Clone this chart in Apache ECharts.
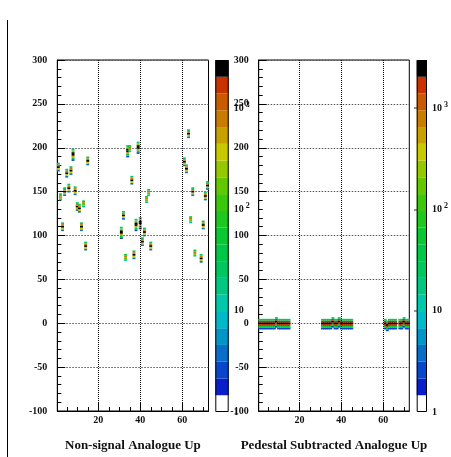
<!DOCTYPE html>
<html>
<head>
<meta charset="utf-8">
<script src="https://cdn.jsdelivr.net/npm/echarts@6/dist/echarts.min.js"></script>
<style>
html, body { margin: 0; padding: 0; background: #fff; }
#main { width: 451px; height: 457px; }
</style>
</head>
<body>
<div id="main"></div>
<script>
// axis ranges
const xMin = 0.5, xMax = 72.5, yMin = -100, yMax = 300;
const yBin = 2;
const cellHalfWidth = 0.7;
const logZMax = 3.475;
const xMajor = [20, 40, 60];
const xMinor = [5, 10, 15, 25, 30, 35, 45, 50, 55, 65, 70];
const cbDecades = [0, 1, 2, 3];
const cbMinorCounts = [2, 3, 4, 5, 6, 7, 8, 9, 20, 30, 40, 50, 60, 70, 80, 90,
  200, 300, 400, 500, 600, 700, 800, 900, 2000];

// palette, bottom to top of the colour bar
const palette = ['#ffffff', '#0a1ecc', '#0a46cc', '#0a6ec8', '#0096c8', '#00b9c8',
  '#00c8aa', '#00c882', '#00c85f', '#00c846', '#0ac832', '#1ec81e', '#3cc80a',
  '#64c800', '#96c800', '#c8c800', '#c8a000', '#c87d00', '#c85a00', '#c83200', '#000000'];

// non-signal: one peak per channel
const sigChannels = [1, 2, 3, 4, 5, 6, 7, 8, 9, 10, 11, 12, 13, 14, 15,
  31, 32, 33, 34, 35, 36, 37, 38, 39, 40, 41, 42, 43, 44, 45,
  61, 62, 63, 64, 65, 66, 69, 70, 71, 72];
const sigPeaks = [178, 145, 110, 150, 171, 154, 174, 192, 151, 133, 131, 110, 137, 88, 185,
  103, 123, 76, 196, 200, 163, 78, 112, 200, 114, 93, 104, 142, 150, 88,
  184, 176, 216, 119, 150, 81, 74, 112, 145, 157];
const sigShape = ['b', 'c', 'b', 'b', 'b', 'b', 'b', 'a', 'b', 'b', 'b', 'b', 'c', 'b', 'b',
  'a', 'b', 'c', 'a', 'c', 'b', 'b', 'a', 'a', 'a', 'b', 'b', 'c', 'c', 'b',
  'b', 'b', 'b', 'c', 'b', 'c', 'b', 'b', 'b', 'b'];
const profiles = {
  a: [3, 40, 600, 3000, 2500, 300, 20],
  b: [4, 400, 3000, 900, 30],
  c: [10, 150, 700, 60]
};

// pedestal subtracted: narrow band around zero
const pedChannels = [1, 2, 3, 4, 5, 6, 7, 8, 9, 10, 11, 12, 13, 14, 15,
  31, 32, 33, 34, 35, 36, 37, 38, 39, 40, 41, 42, 43, 44, 45,
  61, 62, 63, 64, 65, 66, 68, 69, 70, 71, 72];
const pedCenters = [0, 0, 0, 0, 0, 0, 0, 0, 2, 0, 0, 0, 0, 0, 0,
  0, 0, 0, 0, 0, 2, 0, 0, 2, 0, 0, 0, 0, 0, 0,
  0, -2, 0, 0, 0, 0, 0, 0, 2, 0, 0];
const pedProfile = [3, 60, 1500, 3000, 1800, 30];

const font = 'Liberation Serif';

function cells(channels, centers, profileOf) {
  const out = [];
  channels.forEach((ch, i) => {
    const prof = profileOf(i);
    const mid = Math.floor(prof.length / 2);
    prof.forEach((count, k) => {
      out.push([ch, centers[i] + (k - mid) * yBin, Math.log10(count)]);
    });
  });
  return out;
}
const sigData = cells(sigChannels, sigPeaks, i => profiles[sigShape[i]]);
const pedData = cells(pedChannels, pedCenters, () => pedProfile);

const step = logZMax / palette.length;
const pieces = palette.map((c, k) => k === palette.length - 1
  ? { gte: k * step, color: c }
  : { gte: k * step, lt: (k + 1) * step, color: c });
const bandData = palette.map((c, k) => [0, k * step, (k + 0.5) * step, (k + 1) * step]);

function renderCell(params, api) {
  const x = api.value(0), y = api.value(1);
  const a = api.coord([x - cellHalfWidth, y + yBin / 2]);
  const b = api.coord([x + cellHalfWidth, y - yBin / 2]);
  return { type: 'rect', shape: { x: a[0], y: a[1], width: b[0] - a[0], height: b[1] - a[1] },
    style: { fill: api.visual('color') } };
}
function renderBand(params, api) {
  const a = api.coord([0, api.value(3)]);
  const b = api.coord([1, api.value(1)]);
  return { type: 'rect', shape: { x: a[0], y: a[1], width: b[0] - a[0], height: b[1] - a[1] },
    style: { fill: api.visual('color') } };
}
function renderFrame(params, api) {
  const a = api.coord([0, logZMax]);
  const b = api.coord([1, 0]);
  return { type: 'rect', shape: { x: a[0] + 0.5, y: a[1] + 0.5, width: b[0] - a[0] - 1, height: b[1] - a[1] - 1 },
    style: { fill: null, stroke: '#000', lineWidth: 1 } };
}

const labelStyle = { fontFamily: font, fontWeight: 'bold', fontSize: 10, color: '#111' };

function mainX(gi, name) {
  return [{
    type: 'value', gridIndex: gi, min: xMin, max: xMax, position: 'bottom',
    axisLine: { onZero: false, lineStyle: { color: '#000', width: 1 } },
    axisTick: { inside: true, length: 8, customValues: xMajor, lineStyle: { color: '#000' } },
    axisLabel: Object.assign({ customValues: xMajor, margin: 4 }, labelStyle),
    splitLine: { show: false },
    name: name, nameLocation: 'middle', nameGap: 28,
    nameTextStyle: { fontFamily: font, fontWeight: 'bold', fontSize: 13, color: '#111' }
  }, {
    type: 'value', gridIndex: gi, min: xMin, max: xMax, position: 'bottom',
    axisLine: { show: false, onZero: false },
    axisTick: { inside: true, length: 4, customValues: xMinor, lineStyle: { color: '#000' } },
    axisLabel: { show: false }, splitLine: { show: false }
  }];
}
function mainY(gi) {
  return {
    type: 'value', gridIndex: gi, min: yMin, max: yMax, interval: 50, position: 'left',
    axisLine: { show: true, onZero: false, lineStyle: { color: '#000', width: 1 } },
    axisTick: { show: true, inside: true, length: 8, lineStyle: { color: '#000' } },
    minorTick: { show: true, splitNumber: 5, length: 4, lineStyle: { color: '#000' } },
    axisLabel: Object.assign({ margin: 10 }, labelStyle),
    splitLine: { show: true, lineStyle: { color: '#555', type: [1.5, 1.5], width: 1 } }
  };
}
function cbX(gi) {
  return { type: 'value', gridIndex: gi, min: 0, max: 1, show: false };
}
function cbY(gi) {
  return [{
    type: 'value', gridIndex: gi, min: 0, max: logZMax, position: 'right',
    axisLine: { show: false, onZero: false },
    axisTick: { inside: true, length: 13, customValues: [1, 2, 3],
      lineStyle: { color: 'rgba(0,0,0,0.55)', width: 1.5 } },
    axisLabel: Object.assign({
      margin: 5, customValues: cbDecades,
      formatter: v => v === 0 ? '1' : (v === 1 ? '10' : '10{sup| ' + v + '}'),
      rich: { sup: { fontFamily: font, fontWeight: 'bold', fontSize: 8, color: '#111', padding: [0, 0, 6, 0] } }
    }, labelStyle),
    splitLine: { show: false }
  }, {
    type: 'value', gridIndex: gi, min: 0, max: logZMax, position: 'right',
    axisLine: { show: false, onZero: false },
    axisTick: { inside: true, length: 4, customValues: cbMinorCounts.map(Math.log10),
      lineStyle: { color: 'rgba(0,0,0,0.7)' } },
    axisLabel: { show: false }, splitLine: { show: false }
  }];
}
function gridLines(xi, yi) {
  return {
    type: 'line', xAxisIndex: xi, yAxisIndex: yi, data: [], silent: true,
    markLine: {
      silent: true, symbol: 'none', animation: false, label: { show: false },
      lineStyle: { color: '#000', type: [1, 1], width: 1 },
      data: xMajor.map(v => ({ xAxis: v }))
    }
  };
}

const chart = echarts.init(document.getElementById('main'), null, { renderer: 'canvas' });
chart.setOption({
  animation: false,
  backgroundColor: '#fff',
  grid: [
    { left: 57.3, top: 60, width: 151.2, height: 352, show: true, borderColor: '#000', borderWidth: 1, backgroundColor: 'transparent' },
    { left: 258.7, top: 60, width: 150.6, height: 352, show: true, borderColor: '#000', borderWidth: 1, backgroundColor: 'transparent' },
    { left: 215.3, top: 60, width: 13.4, height: 352 },
    { left: 416.7, top: 60, width: 12.6, height: 352 }
  ],
  xAxis: [].concat(mainX(0, 'Non-signal Analogue Up'), mainX(1, 'Pedestal Subtracted Analogue Up'), [cbX(2), cbX(3)]),
  yAxis: [].concat([mainY(0), mainY(1)], cbY(2), cbY(3)),
  visualMap: {
    type: 'piecewise', show: false, dimension: 2, seriesIndex: [0, 1, 2, 3], pieces: pieces
  },
  graphic: [{
    type: 'line', shape: { x1: 7.5, y1: 20, x2: 7.5, y2: 457 }, style: { stroke: '#000', lineWidth: 1 }
  }],
  series: [
    { type: 'custom', xAxisIndex: 0, yAxisIndex: 0, renderItem: renderCell, data: sigData, encode: { x: 0, y: 1 }, clip: true },
    { type: 'custom', xAxisIndex: 2, yAxisIndex: 1, renderItem: renderCell, data: pedData, encode: { x: 0, y: 1 }, clip: true },
    { type: 'custom', xAxisIndex: 4, yAxisIndex: 2, renderItem: renderBand, data: bandData, encode: { x: 0, y: [1, 3] } },
    { type: 'custom', xAxisIndex: 5, yAxisIndex: 4, renderItem: renderBand, data: bandData, encode: { x: 0, y: [1, 3] } },
    gridLines(0, 0),
    gridLines(2, 1),
    { type: 'custom', xAxisIndex: 4, yAxisIndex: 2, renderItem: renderFrame, data: [[0, 0]], z: 5 },
    { type: 'custom', xAxisIndex: 5, yAxisIndex: 4, renderItem: renderFrame, data: [[0, 0]], z: 5 }
  ]
});
</script>
</body>
</html>
